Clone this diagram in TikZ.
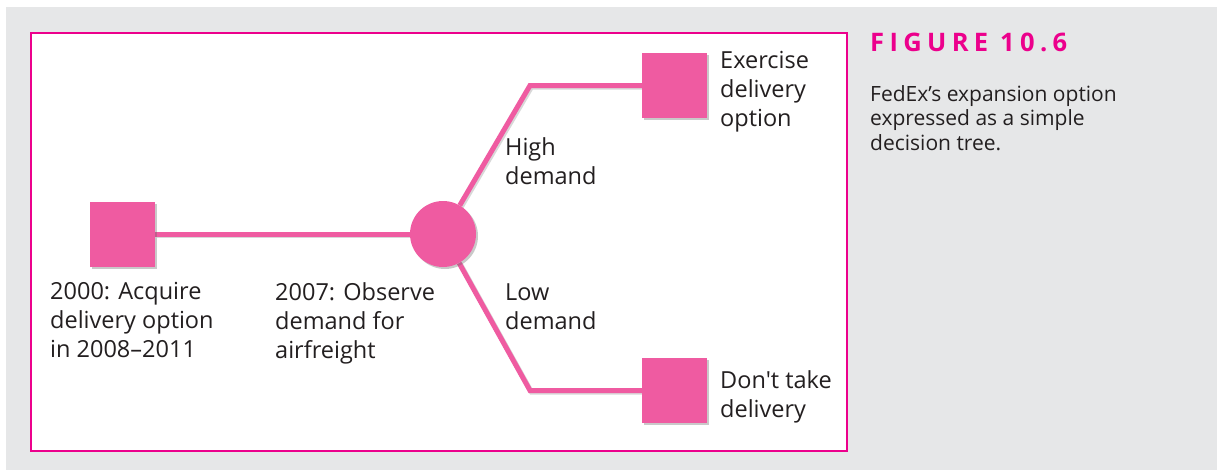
\documentclass[tikz,border=0pt]{standalone}
\usepackage{fontspec}
\setmainfont{Open Sans}[Ligatures=TeXOff]
\usetikzlibrary{shadows}
\definecolor{bggray}{HTML}{E6E7E8}
\definecolor{frame}{HTML}{EC008C}
\definecolor{shape}{HTML}{EF5BA1}
\definecolor{ink}{HTML}{231F20}
\pgfdeclarelayer{bg}
\pgfdeclarelayer{lines}
\pgfsetlayers{bg,lines,main}
\tikzset{
  sq/.style={rectangle, fill=shape, minimum size=65pt, inner sep=0pt,
    drop shadow={shadow xshift=2pt, shadow yshift=-2pt, opacity=0.35, fill=black!60}},
  chance/.style={circle, fill=shape, minimum size=66pt, inner sep=0pt,
    drop shadow={shadow xshift=2pt, shadow yshift=-2pt, opacity=0.35, fill=black!60}},
  lbl/.style={anchor=north west, inner sep=0pt, align=left, text=ink,
    font=\fontsize{23.5}{29}\selectfont},
  branch/.style={draw=shape, line width=5pt, line join=miter},
  branchshadow/.style={draw=black!60, opacity=0.25, line width=5pt},
}
\begin{document}
\begin{tikzpicture}[x=1pt,y=-1pt]
\useasboundingbox (0,0) rectangle (1217,472);
\begin{pgfonlayer}{bg}
  \fill[bggray] (6,7) rectangle (1217,470);
  \draw[frame, line width=2pt, fill=white] (31,33) rectangle (847,451);
\end{pgfonlayer}

\node[sq] (a) at (122.5,234) {};
\node[chance] (c) at (443,234) {};
\node[sq] (h) at (674.5,85.5) {};
\node[sq] (l) at (674.5,390.5) {};
\coordinate (kh) at (530,85.5);
\coordinate (kl) at (530,390.5);

\begin{pgfonlayer}{lines}
  \draw[branchshadow, transform canvas={shift={(1.5pt,-1.5pt)}}] (a.east) -- (c.west);
  \draw[branchshadow, transform canvas={shift={(1.5pt,-1.5pt)}}] (c) -- (kh) -- (h.west);
  \draw[branchshadow, transform canvas={shift={(1.5pt,-1.5pt)}}] (c) -- (kl) -- (l.west);
  \draw[branch] (a.east) -- (c.west);
  \draw[branch] (c) -- (kh) -- (h.west);
  \draw[branch] (c) -- (kl) -- (l.west);
\end{pgfonlayer}

\node[lbl] (t1) at (720,51) {Exercise\\delivery\\option};
\node[lbl] (t2) at (505,137) {High\\demand};
\node[lbl] (t3) at (505,284) {Low\\demand};
\node[lbl] (t4) at (720,370) {Don't take\\delivery};
\node[lbl] (t5) at (50,282) {2000: Acquire\\delivery option\\in 2008–2011};
\node[lbl] (t6) at (275,282) {2007: Observe\\demand for\\airfreight};

\node[anchor=north west, inner sep=0pt, text=frame,
  font=\fontsize{25.5}{28}\selectfont\bfseries\addfontfeatures{LetterSpace=21}] (fig) at (870,33) {FIGURE 10.6};
\node[anchor=north west, inner sep=0pt, align=left, text=ink,
  font=\fontsize{21}{24.5}\selectfont] (cap) at (870,85) {FedEx’s expansion option\\expressed as a simple\\decision tree.};
\end{tikzpicture}
\end{document}
